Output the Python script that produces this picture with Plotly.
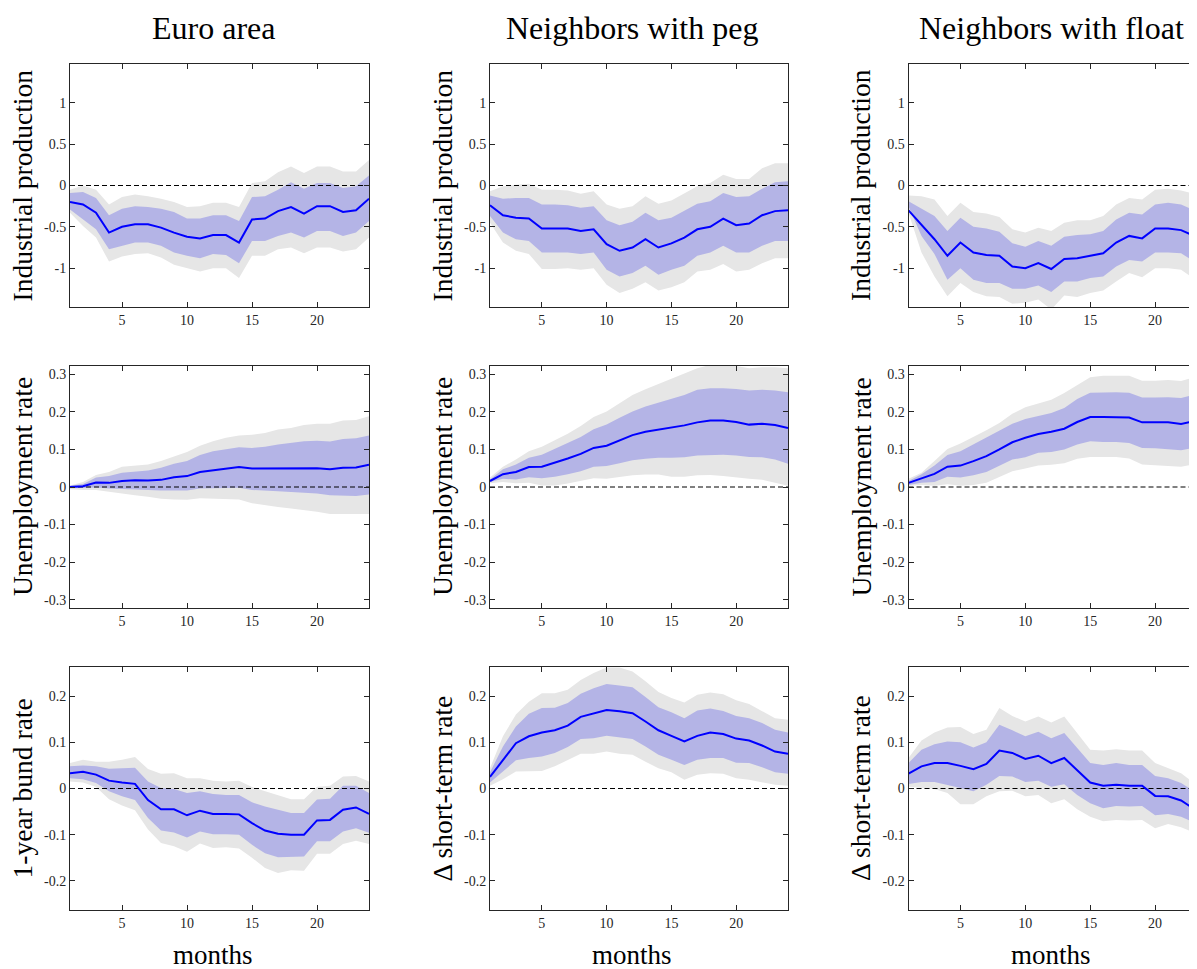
import plotly.graph_objects as go
from plotly.subplots import make_subplots

months = list(range(1, 25))

col_titles = ["Euro area", "Neighbors with peg", "Neighbors with float"]
row_labels = [
    ["Industrial production", "Industrial production", "Industrial production"],
    ["Unemployment rate", "Unemployment rate", "Unemployment rate"],
    ["1-year bund rate", "Δ short-term rate", "Δ short-term rate"],
]
x_label = "months"

x_ticks = [5, 10, 15, 20]
row1_ticks = [-1, -0.5, 0, 0.5, 1]
row1_ticktext = ["-1", "-0.5", "0", "0.5", "1"]
row2_ticks = [-0.3, -0.2, -0.1, 0, 0.1, 0.2, 0.3]
row2_ticktext = ["-0.3", "-0.2", "-0.1", "0", "0.1", "0.2", "0.3"]
row3_ticks = [-0.2, -0.1, 0, 0.1, 0.2]
row3_ticktext = ["-0.2", "-0.1", "0", "0.1", "0.2"]

# ---------------- Industrial production ----------------
ip_euro_mid = [-0.20, -0.23, -0.33, -0.57, -0.50, -0.47, -0.47, -0.51, -0.57, -0.62, -0.64, -0.60,
               -0.60, -0.69, -0.41, -0.40, -0.31, -0.26, -0.34, -0.25, -0.25, -0.32, -0.30, -0.16]
ip_euro_hi68 = [-0.09, -0.08, -0.15, -0.36, -0.28, -0.25, -0.26, -0.28, -0.32, -0.40, -0.40, -0.36,
                -0.36, -0.43, -0.14, -0.13, -0.05, 0.04, -0.04, 0.03, 0.03, -0.03, -0.01, 0.12]
ip_euro_lo68 = [-0.29, -0.41, -0.53, -0.77, -0.73, -0.69, -0.69, -0.73, -0.81, -0.85, -0.88, -0.83,
                -0.84, -0.94, -0.67, -0.67, -0.61, -0.57, -0.63, -0.55, -0.55, -0.61, -0.57, -0.43]
ip_euro_hi90 = [-0.05, 0.00, -0.05, -0.23, -0.14, -0.11, -0.13, -0.16, -0.20, -0.26, -0.25, -0.21,
                -0.21, -0.26, 0.03, 0.05, 0.16, 0.23, 0.15, 0.23, 0.23, 0.17, 0.17, 0.31]
ip_euro_lo90 = [-0.33, -0.49, -0.63, -0.92, -0.86, -0.83, -0.82, -0.87, -0.96, -1.00, -1.04, -1.00,
                -1.00, -1.12, -0.85, -0.85, -0.77, -0.75, -0.82, -0.75, -0.75, -0.80, -0.77, -0.63]

ip_peg_mid = [-0.24, -0.36, -0.39, -0.40, -0.52, -0.52, -0.52, -0.55, -0.53, -0.71, -0.79, -0.75,
              -0.65, -0.75, -0.70, -0.63, -0.53, -0.50, -0.40, -0.48, -0.46, -0.36, -0.31, -0.30]
ip_peg_hi68 = [-0.12, -0.16, -0.15, -0.15, -0.23, -0.23, -0.24, -0.27, -0.25, -0.42, -0.48, -0.44,
               -0.33, -0.42, -0.39, -0.31, -0.22, -0.19, -0.09, -0.14, -0.13, -0.04, 0.04, 0.05]
ip_peg_lo68 = [-0.37, -0.57, -0.65, -0.67, -0.81, -0.81, -0.81, -0.83, -0.81, -1.02, -1.10, -1.06,
               -0.97, -1.08, -1.02, -0.97, -0.85, -0.81, -0.73, -0.81, -0.81, -0.73, -0.67, -0.67]
ip_peg_hi90 = [-0.07, -0.01, 0.01, 0.02, -0.05, -0.05, -0.06, -0.10, -0.07, -0.23, -0.28, -0.25,
               -0.13, -0.22, -0.18, -0.09, -0.01, 0.03, 0.13, 0.08, 0.08, 0.21, 0.27, 0.27]
ip_peg_lo90 = [-0.45, -0.69, -0.79, -0.83, -1.01, -1.01, -1.00, -1.02, -1.00, -1.20, -1.30, -1.25,
               -1.17, -1.27, -1.23, -1.17, -1.04, -1.02, -0.95, -1.04, -1.02, -0.94, -0.88, -0.88]

ip_float_mid = [-0.30, -0.48, -0.65, -0.85, -0.69, -0.81, -0.84, -0.85, -0.98, -1.00, -0.94, -1.01,
                -0.89, -0.88, -0.85, -0.82, -0.69, -0.61, -0.64, -0.52, -0.52, -0.54, -0.61, -0.55]
ip_float_hi68 = [-0.19, -0.28, -0.37, -0.55, -0.39, -0.50, -0.52, -0.56, -0.70, -0.74, -0.67, -0.73,
                 -0.62, -0.60, -0.59, -0.55, -0.41, -0.33, -0.35, -0.23, -0.21, -0.23, -0.30, -0.25]
ip_float_lo68 = [-0.25, -0.61, -0.83, -1.14, -1.00, -1.14, -1.18, -1.18, -1.25, -1.25, -1.21, -1.29,
                 -1.16, -1.16, -1.12, -1.10, -0.98, -0.90, -0.92, -0.81, -0.81, -0.82, -0.92, -0.88]
ip_float_hi90 = [-0.12, -0.13, -0.17, -0.37, -0.21, -0.32, -0.34, -0.38, -0.53, -0.57, -0.51, -0.55,
                 -0.45, -0.42, -0.42, -0.37, -0.23, -0.15, -0.17, -0.05, -0.04, -0.06, -0.10, -0.05]
ip_float_lo90 = [-0.33, -0.81, -1.10, -1.34, -1.18, -1.29, -1.34, -1.35, -1.43, -1.42, -1.38, -1.50,
                 -1.33, -1.35, -1.30, -1.27, -1.16, -1.06, -1.11, -1.00, -1.00, -1.02, -1.13, -1.10]

# ---------------- Unemployment rate ----------------
ur_euro_mid = [0.000, 0.002, 0.012, 0.011, 0.016, 0.018, 0.017, 0.019, 0.026, 0.029, 0.040, 0.045,
               0.050, 0.053, 0.049, 0.049, 0.049, 0.050, 0.051, 0.050, 0.047, 0.051, 0.052, 0.059]
ur_euro_hi68 = [0.003, 0.008, 0.025, 0.029, 0.038, 0.042, 0.044, 0.051, 0.062, 0.069, 0.085, 0.095,
                0.101, 0.106, 0.104, 0.107, 0.113, 0.117, 0.122, 0.123, 0.121, 0.128, 0.130, 0.137]
ur_euro_lo68 = [-0.003, -0.003, -0.001, -0.004, -0.006, -0.006, -0.008, -0.009, -0.009, -0.009, -0.004, -0.004,
                -0.003, -0.002, -0.008, -0.009, -0.011, -0.013, -0.015, -0.017, -0.022, -0.022, -0.024, -0.020]
ur_euro_hi90 = [0.004, 0.013, 0.032, 0.040, 0.054, 0.057, 0.060, 0.069, 0.082, 0.093, 0.110, 0.122,
                0.131, 0.137, 0.139, 0.144, 0.153, 0.157, 0.165, 0.168, 0.168, 0.177, 0.178, 0.188]
ur_euro_lo90 = [-0.006, -0.008, -0.008, -0.013, -0.018, -0.022, -0.026, -0.031, -0.033, -0.034, -0.030, -0.031,
                -0.031, -0.033, -0.043, -0.049, -0.053, -0.057, -0.061, -0.066, -0.072, -0.072, -0.074, -0.072]

ur_peg_mid = [0.016, 0.034, 0.040, 0.053, 0.054, 0.064, 0.076, 0.088, 0.104, 0.110, 0.124, 0.138,
              0.147, 0.153, 0.157, 0.164, 0.172, 0.177, 0.177, 0.173, 0.166, 0.168, 0.165, 0.157]
ur_peg_hi68 = [0.020, 0.047, 0.060, 0.078, 0.086, 0.101, 0.117, 0.133, 0.154, 0.166, 0.184, 0.201,
               0.214, 0.225, 0.234, 0.245, 0.259, 0.263, 0.263, 0.261, 0.257, 0.259, 0.257, 0.252]
ur_peg_lo68 = [0.013, 0.022, 0.020, 0.026, 0.023, 0.027, 0.034, 0.042, 0.054, 0.056, 0.063, 0.071,
               0.075, 0.078, 0.078, 0.079, 0.084, 0.086, 0.086, 0.084, 0.080, 0.079, 0.073, 0.062]
ur_peg_hi90 = [0.025, 0.054, 0.073, 0.095, 0.107, 0.124, 0.142, 0.162, 0.186, 0.201, 0.223, 0.245,
               0.260, 0.274, 0.288, 0.303, 0.316, 0.325, 0.326, 0.322, 0.316, 0.319, 0.319, 0.316]
ur_peg_lo90 = [0.010, 0.013, 0.010, 0.011, 0.004, 0.004, 0.009, 0.016, 0.023, 0.022, 0.027, 0.031,
               0.033, 0.033, 0.027, 0.027, 0.031, 0.032, 0.029, 0.025, 0.022, 0.019, 0.011, 0.003]

ur_float_mid = [0.011, 0.022, 0.035, 0.054, 0.057, 0.069, 0.082, 0.100, 0.119, 0.131, 0.141, 0.147,
                0.155, 0.173, 0.186, 0.186, 0.186, 0.185, 0.172, 0.172, 0.172, 0.168, 0.175, 0.177]
ur_float_hi68 = [0.016, 0.034, 0.057, 0.085, 0.095, 0.113, 0.131, 0.148, 0.168, 0.181, 0.190, 0.197,
                 0.210, 0.234, 0.251, 0.252, 0.252, 0.251, 0.238, 0.238, 0.239, 0.237, 0.245, 0.247]
ur_float_lo68 = [0.005, 0.011, 0.013, 0.027, 0.025, 0.031, 0.040, 0.057, 0.073, 0.079, 0.091, 0.093,
                 0.100, 0.113, 0.122, 0.120, 0.120, 0.117, 0.104, 0.103, 0.101, 0.098, 0.104, 0.107]
ur_float_hi90 = [0.022, 0.038, 0.069, 0.101, 0.116, 0.133, 0.151, 0.170, 0.195, 0.212, 0.223, 0.232,
                 0.250, 0.272, 0.292, 0.296, 0.296, 0.296, 0.283, 0.283, 0.285, 0.282, 0.292, 0.294]
ur_float_lo90 = [0.003, 0.005, 0.003, 0.007, 0.003, 0.005, 0.011, 0.027, 0.042, 0.049, 0.057, 0.059,
                 0.063, 0.075, 0.080, 0.080, 0.080, 0.076, 0.060, 0.058, 0.057, 0.054, 0.060, 0.056]

# ---------------- Interest rates ----------------
rate_euro_mid = [0.033, 0.036, 0.030, 0.017, 0.013, 0.010, -0.025, -0.045, -0.045, -0.058, -0.048, -0.055,
                 -0.055, -0.056, -0.075, -0.091, -0.098, -0.100, -0.100, -0.069, -0.068, -0.046, -0.041, -0.055]
rate_euro_hi68 = [0.048, 0.050, 0.048, 0.043, 0.044, 0.045, 0.015, 0.001, -0.001, -0.010, -0.006, -0.012,
                  -0.014, -0.014, -0.030, -0.039, -0.046, -0.053, -0.053, -0.024, -0.022, 0.006, 0.006, -0.010]
rate_euro_lo68 = [0.022, 0.020, 0.012, -0.006, -0.017, -0.025, -0.064, -0.091, -0.095, -0.106, -0.093, -0.099,
                  -0.099, -0.100, -0.122, -0.140, -0.149, -0.148, -0.147, -0.114, -0.114, -0.093, -0.086, -0.096]
rate_euro_hi90 = [0.055, 0.062, 0.058, 0.058, 0.062, 0.068, 0.042, 0.032, 0.033, 0.022, 0.022, 0.017,
                  0.015, 0.017, 0.003, -0.006, -0.014, -0.023, -0.023, 0.004, 0.006, 0.026, 0.027, 0.015]
rate_euro_lo90 = [0.015, 0.013, 0.003, -0.023, -0.037, -0.047, -0.089, -0.118, -0.125, -0.137, -0.119, -0.129,
                  -0.127, -0.130, -0.150, -0.172, -0.183, -0.177, -0.178, -0.141, -0.141, -0.120, -0.113, -0.120]

rate_peg_mid = [0.025, 0.062, 0.098, 0.113, 0.121, 0.126, 0.136, 0.155, 0.163, 0.170, 0.167, 0.163,
                0.145, 0.126, 0.114, 0.102, 0.114, 0.121, 0.118, 0.108, 0.104, 0.093, 0.080, 0.075]
rate_peg_hi68 = [0.035, 0.091, 0.134, 0.162, 0.174, 0.175, 0.185, 0.205, 0.217, 0.226, 0.223, 0.219,
                 0.198, 0.176, 0.165, 0.152, 0.169, 0.173, 0.168, 0.157, 0.152, 0.142, 0.127, 0.121]
rate_peg_lo68 = [0.013, 0.037, 0.061, 0.066, 0.069, 0.077, 0.090, 0.107, 0.109, 0.114, 0.111, 0.107,
                 0.091, 0.073, 0.062, 0.051, 0.062, 0.066, 0.066, 0.056, 0.055, 0.046, 0.035, 0.032]
rate_peg_hi90 = [0.044, 0.113, 0.160, 0.188, 0.206, 0.206, 0.214, 0.235, 0.250, 0.262, 0.262, 0.253,
                 0.232, 0.209, 0.196, 0.186, 0.203, 0.208, 0.204, 0.191, 0.183, 0.167, 0.152, 0.149]
rate_peg_lo90 = [0.006, 0.020, 0.037, 0.037, 0.038, 0.048, 0.061, 0.075, 0.075, 0.080, 0.075, 0.073,
                 0.058, 0.044, 0.035, 0.019, 0.030, 0.033, 0.032, 0.022, 0.019, 0.013, 0.008, 0.006]

rate_float_mid = [0.032, 0.048, 0.055, 0.055, 0.049, 0.042, 0.053, 0.082, 0.077, 0.064, 0.071, 0.055,
                  0.066, 0.039, 0.013, 0.006, 0.008, 0.006, 0.006, -0.016, -0.017, -0.026, -0.044, -0.039]
rate_float_hi68 = [0.055, 0.084, 0.096, 0.102, 0.100, 0.089, 0.100, 0.138, 0.126, 0.113, 0.123, 0.109,
                   0.120, 0.087, 0.055, 0.051, 0.055, 0.051, 0.051, 0.027, 0.022, 0.012, -0.006, -0.001]
rate_float_lo68 = [0.010, 0.014, 0.014, 0.008, 0.001, -0.006, 0.008, 0.027, 0.026, 0.014, 0.017, 0.004,
                   0.009, -0.014, -0.032, -0.043, -0.038, -0.039, -0.038, -0.058, -0.055, -0.061, -0.074, -0.075]
rate_float_hi90 = [0.066, 0.104, 0.121, 0.132, 0.133, 0.118, 0.127, 0.174, 0.157, 0.145, 0.156, 0.143,
                   0.156, 0.120, 0.084, 0.082, 0.085, 0.082, 0.082, 0.055, 0.044, 0.033, 0.012, 0.017]
rate_float_lo90 = [0.004, 0.001, -0.001, -0.010, -0.034, -0.034, -0.017, -0.006, -0.005, -0.017, -0.014, -0.032,
                   -0.023, -0.045, -0.061, -0.071, -0.068, -0.069, -0.068, -0.086, -0.077, -0.084, -0.095, -0.093]

panels = [
    [(ip_euro_mid, ip_euro_lo68, ip_euro_hi68, ip_euro_lo90, ip_euro_hi90),
     (ip_peg_mid, ip_peg_lo68, ip_peg_hi68, ip_peg_lo90, ip_peg_hi90),
     (ip_float_mid, ip_float_lo68, ip_float_hi68, ip_float_lo90, ip_float_hi90)],
    [(ur_euro_mid, ur_euro_lo68, ur_euro_hi68, ur_euro_lo90, ur_euro_hi90),
     (ur_peg_mid, ur_peg_lo68, ur_peg_hi68, ur_peg_lo90, ur_peg_hi90),
     (ur_float_mid, ur_float_lo68, ur_float_hi68, ur_float_lo90, ur_float_hi90)],
    [(rate_euro_mid, rate_euro_lo68, rate_euro_hi68, rate_euro_lo90, rate_euro_hi90),
     (rate_peg_mid, rate_peg_lo68, rate_peg_hi68, rate_peg_lo90, rate_peg_hi90),
     (rate_float_mid, rate_float_lo68, rate_float_hi68, rate_float_lo90, rate_float_hi90)],
]

# ---------------- styling / layout ----------------
# The page body has an 8px margin, so the figure sits at (8, 8) in the window.
OFF = 8
W, H = 1197 - OFF, 969 - OFF
FONT = "Liberation Serif, DejaVu Serif, serif"
AX = "#262626"
GRAY = "rgb(230,230,230)"
PURPLE = "rgb(180,180,230)"
BLUE = "rgb(0,0,255)"

# positions in window pixels
col_px = [(70, 369), (490, 788), (908.5, 1197)]
row_px = [(64, 307), (366, 608), (667, 910)]
y_ranges = [[-1.47, 1.47], [-0.322, 0.322], [-0.263, 0.263]]
y_tick_sets = [(row1_ticks, row1_ticktext), (row2_ticks, row2_ticktext), (row3_ticks, row3_ticktext)]
x_ranges = [[1, 24], [1, 24], [1, 1 + (1197 - 908.5) / 12.98]]


def px(v):
    return (v - OFF) / W


def py(v):
    return 1 - (v - OFF) / H


fig = make_subplots(rows=3, cols=3)

for r in range(3):
    for c in range(3):
        mid, lo68, hi68, lo90, hi90 = panels[r][c]
        show = dict(row=r + 1, col=c + 1)
        fig.add_trace(go.Scatter(x=months, y=lo90, mode="lines", line=dict(width=0, color=GRAY),
                                 showlegend=False, hoverinfo="skip"), **show)
        fig.add_trace(go.Scatter(x=months, y=hi90, mode="lines", line=dict(width=0, color=GRAY),
                                 fill="tonexty", fillcolor=GRAY, showlegend=False, hoverinfo="skip"), **show)
        fig.add_trace(go.Scatter(x=months, y=lo68, mode="lines", line=dict(width=0, color=PURPLE),
                                 showlegend=False, hoverinfo="skip"), **show)
        fig.add_trace(go.Scatter(x=months, y=hi68, mode="lines", line=dict(width=0, color=PURPLE),
                                 fill="tonexty", fillcolor=PURPLE, showlegend=False, hoverinfo="skip"), **show)
        fig.add_trace(go.Scatter(x=[months[0], months[-1]], y=[0, 0], mode="lines",
                                 line=dict(color="black", width=1, dash="5px,3px"),
                                 showlegend=False, hoverinfo="skip"), **show)
        fig.add_trace(go.Scatter(x=months, y=mid, mode="lines", line=dict(color=BLUE, width=2),
                                 showlegend=False), **show)

        idx = r * 3 + c + 1
        sfx = "" if idx == 1 else str(idx)
        x0, x1 = col_px[c]
        y0, y1 = row_px[r]
        tv, tt = y_tick_sets[r]
        fig.layout["xaxis" + sfx].update(
            domain=[px(x0), min(px(x1), 1.0)], range=x_ranges[c], tickvals=x_ticks,
            ticks="inside", ticklen=5, tickwidth=1, tickcolor=AX,
            showline=True, linecolor=AX, linewidth=1, mirror="ticks",
            showgrid=False, zeroline=False,
            tickfont=dict(family=FONT, size=14, color=AX),
        )
        fig.layout["yaxis" + sfx].update(
            domain=[py(y1), py(y0)], range=y_ranges[r], tickvals=tv, ticktext=tt,
            ticks="inside", ticklen=5, tickwidth=1, tickcolor=AX,
            showline=True, linecolor=AX, linewidth=1, mirror=("ticks" if c < 2 else False),
            showgrid=False, zeroline=False,
            tickfont=dict(family=FONT, size=14, color=AX),
        )

annotations = []
title_cx = [213, 632, 1051]
for c in range(3):
    x0, x1 = col_px[c]
    annotations.append(dict(text=col_titles[c], x=px(title_cx[c]), y=py(28), xref="paper", yref="paper",
                            xanchor="center", yanchor="middle", showarrow=False,
                            font=dict(family=FONT, size=32, color="black")))
    annotations.append(dict(text=x_label, x=px(title_cx[c]), y=py(955), xref="paper", yref="paper",
                            xanchor="center", yanchor="middle", showarrow=False,
                            font=dict(family=FONT, size=27, color="black")))
    for r in range(3):
        y0, y1 = row_px[r]
        annotations.append(dict(text=row_labels[r][c], x=px(x0 - 48), y=py((y0 + y1) / 2),
                                xref="paper", yref="paper", xanchor="center", yanchor="middle",
                                textangle=-90, showarrow=False,
                                font=dict(family=FONT, size=27.5, color="black")))

fig.update_layout(
    width=W, height=H, margin=dict(l=0, r=0, t=0, b=0),
    paper_bgcolor="white", plot_bgcolor="white",
    annotations=annotations, showlegend=False,
)

fig.write_html("out.html")
